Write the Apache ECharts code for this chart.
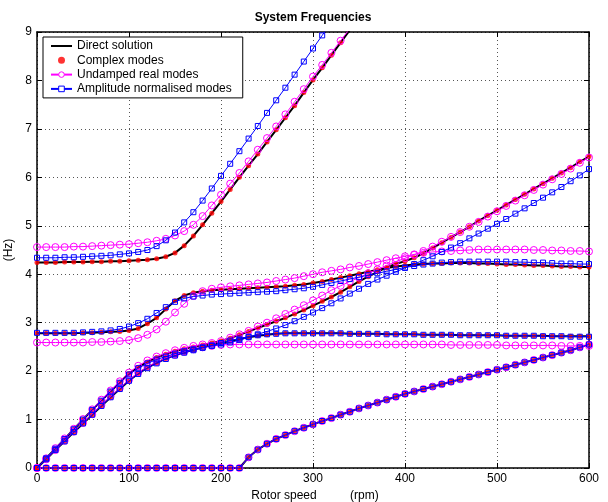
<!DOCTYPE html>
<html>
<head>
<meta charset="utf-8">
<script src="https://cdn.jsdelivr.net/npm/echarts@6/dist/echarts.min.js"></script>
<style>
  html, body { margin: 0; padding: 0; background: #fff; }
  #chart { width: 608px; height: 502px; }
</style>
</head>
<body>
<div id="chart"></div>
<script>
// rotor speed (rpm)
const rpm = [0,10,20,30,40,50,60,70,80,90,100,110,120,130,140,150,160,170,180,190,200,210,220,230,240,250,260,270,280,290,300,310,320,330,340,350,360,370,380,390,400,410,420,430,440,450,460,470,480,490,500,510,520,530,540,550,560,570,580,590,600];

// direct solution (also used by complex modes, the dots sit on the line)
const dirA = [4.24,4.24,4.24,4.25,4.25,4.25,4.26,4.26,4.27,4.27, 4.28,4.29,4.30,4.32,4.36,4.44,4.59,4.79,5.02,5.26, 5.50,5.75,6.00,6.24,6.48,6.73,6.98,7.23,7.48,7.75, 8.01,8.26,8.52,8.78,9.04,9.30,null,null,null,null, null,null,null,null,null,null,null,null,null,null, null,null,null,null,null,null,null,null,null,null,null];
const dirB = [2.78,2.78,2.78,2.78,2.78,2.79,2.79,2.80,2.81,2.82, 2.84,2.88,2.98,3.10,3.28,3.45,3.56,3.62,3.65,3.67, 3.68,3.69,3.70,3.71,3.72,3.73,3.74,3.75,3.77,3.79, 3.82,3.85,3.89,3.93,3.97,4.01,4.05,4.09,4.13,4.16, 4.18,4.20,4.21,4.22,4.22,4.23,4.23,4.23,4.22,4.22, 4.21,4.20,4.20,4.19,4.18,4.18,4.17,4.16,4.16,4.15,4.15];
const dirC1 = [0,0.20,0.40,0.60,0.80,1.00,1.20,1.39,1.58,1.77, 1.95,2.08,2.19,2.28,2.35,2.41,2.46,2.50,2.54,2.58, 2.62,2.68,2.75,2.82,2.89,2.96,3.03,3.10,3.18,3.26, 3.35,3.44,3.53,3.63,3.74,3.85,3.95,4.05,4.14,4.21, 4.27,4.34,4.43,4.54,4.65,4.76,4.87,4.98,5.10,5.21, 5.32,5.43,5.54,5.65,5.76,5.87,5.98,6.09,6.20,6.32,6.43];
const dirC2 = [0,0.18,0.37,0.55,0.74,0.92,1.10,1.28,1.46,1.63, 1.80,1.95,2.07,2.17,2.26,2.33,2.39,2.44,2.49,2.54, 2.58,2.62,2.66,2.70,2.73,2.75,2.77,2.78,2.78,2.78, 2.78,2.78,2.78,2.78,2.77,2.77,2.77,2.77,2.76,2.76, 2.76,2.76,2.75,2.75,2.75,2.75,2.74,2.74,2.74,2.74, 2.74,2.73,2.73,2.73,2.73,2.73,2.72,2.72,2.72,2.72,2.72];
const dirD = [0,0,0,0,0,0,0,0,0,0, 0,0,0,0,0,0,0,0,0,0, 0,0,0,0.22,0.38,0.50,0.60,0.68,0.76,0.83, 0.90,0.97,1.03,1.10,1.16,1.23,1.29,1.35,1.41,1.47, 1.53,1.58,1.63,1.68,1.73,1.78,1.83,1.88,1.93,1.98, 2.03,2.08,2.13,2.18,2.23,2.28,2.33,2.38,2.43,2.49,2.55];

// undamped real modes
const undA = [4.56,4.56,4.56,4.56,4.57,4.57,4.58,4.59,4.60,4.61, 4.62,4.64,4.66,4.69,4.73,4.80,4.89,5.02,5.20,5.42, 5.64,5.87,6.09,6.33,6.57,6.81,7.05,7.30,7.56,7.82, 8.08,8.32,8.57,8.82,9.07,9.32,null,null,null,null, null,null,null,null,null,null,null,null,null,null, null,null,null,null,null,null,null,null,null,null,null];
const undB = [2.59,2.59,2.59,2.59,2.59,2.59,2.60,2.60,2.61,2.62, 2.64,2.68,2.75,2.86,3.02,3.21,3.39,3.55,3.65,3.70, 3.73,3.75,3.77,3.79,3.81,3.83,3.86,3.89,3.92,3.96, 4.00,4.04,4.07,4.10,4.14,4.17,4.21,4.25,4.29,4.33, 4.37,4.41,4.44,4.46,4.47,4.48,4.49,4.50,4.51,4.51, 4.51,4.51,4.51,4.51,4.50,4.50,4.49,4.49,4.48,4.48,4.47];
const undC1 = [0,0.20,0.41,0.61,0.81,1.01,1.21,1.41,1.60,1.79, 1.97,2.11,2.22,2.30,2.37,2.43,2.48,2.52,2.55,2.58, 2.62,2.69,2.76,2.83,2.92,3.00,3.09,3.18,3.27,3.36, 3.46,3.56,3.67,3.76,3.85,3.93,4.02,4.10,4.18,4.26, 4.33,4.40,4.48,4.57,4.67,4.77,4.87,4.98,5.08,5.19, 5.30,5.41,5.52,5.63,5.74,5.85,5.96,6.07,6.18,6.30,6.41];
const undC2 = [0,0.18,0.37,0.56,0.75,0.93,1.11,1.30,1.48,1.65, 1.82,1.97,2.09,2.19,2.27,2.34,2.40,2.45,2.49,2.52, 2.54,2.55,2.55,2.55,2.55,2.55,2.55,2.55,2.55,2.55, 2.55,2.55,2.55,2.55,2.55,2.55,2.55,2.55,2.55,2.55, 2.55,2.55,2.55,2.55,2.55,2.54,2.54,2.54,2.54,2.54, 2.54,2.53,2.53,2.53,2.53,2.53,2.53,2.52,2.52,2.52,2.52];

// amplitude normalised modes
const ampA = [4.34,4.34,4.34,4.35,4.35,4.36,4.37,4.38,4.39,4.41, 4.43,4.46,4.50,4.58,4.70,4.86,5.07,5.28,5.52,5.77, 6.03,6.28,6.54,6.80,7.06,7.33,7.59,7.85,8.12,8.39, 8.66,8.93,9.20,null,null,null,null,null,null,null, null,null,null,null,null,null,null,null,null,null, null,null,null,null,null,null,null,null,null,null,null];
const ampB = [2.79,2.79,2.79,2.79,2.79,2.80,2.81,2.82,2.84,2.87, 2.92,2.99,3.08,3.20,3.32,3.43,3.50,3.54,3.56,3.58, 3.59,3.60,3.61,3.62,3.63,3.64,3.65,3.67,3.69,3.71, 3.74,3.78,3.82,3.86,3.90,3.94,3.98,4.02,4.06,4.10, 4.14,4.17,4.20,4.22,4.24,4.25,4.26,4.26,4.26,4.26, 4.26,4.26,4.25,4.25,4.24,4.24,4.23,4.22,4.22,4.21,4.21];
const ampC1 = [0,0.20,0.40,0.60,0.80,1.00,1.20,1.39,1.58,1.76, 1.93,2.06,2.16,2.24,2.30,2.36,2.41,2.45,2.49,2.52, 2.55,2.59,2.64,2.70,2.76,2.82,2.88,2.95,3.03,3.12, 3.21,3.30,3.40,3.50,3.60,3.70,3.80,3.89,3.97,4.05, 4.13,4.21,4.29,4.37,4.46,4.55,4.64,4.74,4.84,4.94, 5.04,5.14,5.25,5.36,5.47,5.58,5.69,5.80,5.92,6.04,6.17];
const ampC2 = [0,0.18,0.37,0.55,0.74,0.92,1.10,1.28,1.46,1.63, 1.80,1.94,2.06,2.16,2.25,2.32,2.38,2.43,2.48,2.53, 2.58,2.63,2.67,2.71,2.74,2.76,2.77,2.78,2.78,2.78, 2.78,2.78,2.78,2.78,2.77,2.77,2.77,2.77,2.76,2.76, 2.76,2.76,2.75,2.75,2.75,2.75,2.74,2.74,2.74,2.74, 2.74,2.73,2.73,2.73,2.73,2.72,2.72,2.72,2.71,2.71,2.71];

const xTicks = [0, 100, 200, 300, 400, 500, 600];
const yTicks = [0, 1, 2, 3, 4, 5, 6, 7, 8, 9];

const FONT = '"Liberation Sans", Arial, Helvetica, sans-serif';

const pts = (arr) => rpm.map((r, i) => [r, arr[i]]);

const direct = [dirA, dirB, dirC1, dirC2, dirD];
const undamped = [undA, undB, undC1, undC2, dirD];
const amplitude = [ampA, ampB, ampC1, ampC2, dirD];

const series = [];
direct.forEach((a) => {
  series.push({
    name: 'Direct solution', type: 'line', data: pts(a), symbol: 'none',
    lineStyle: { color: '#000', width: 2 }, itemStyle: { color: '#000' },
    z: 2, silent: true, connectNulls: false
  });
});
direct.forEach((a) => {
  series.push({
    name: 'Complex modes', type: 'scatter', data: pts(a), symbol: 'circle', symbolSize: 5,
    itemStyle: { color: '#ff0000' }, z: 3, silent: true
  });
});
undamped.forEach((a) => {
  series.push({
    name: 'Undamped real modes', type: 'line', data: pts(a), symbol: 'circle', symbolSize: 7,
    showAllSymbol: true,
    lineStyle: { color: '#ff00ff', width: 1 },
    itemStyle: { color: 'rgba(255,0,255,0)', borderColor: '#ff00ff', borderWidth: 1 },
    z: 4, silent: true
  });
});
amplitude.forEach((a) => {
  series.push({
    name: 'Amplitude normalised modes', type: 'line', data: pts(a), symbol: 'rect', symbolSize: 5,
    showAllSymbol: true,
    lineStyle: { color: '#0000ff', width: 1 },
    itemStyle: { color: 'rgba(0,0,255,0)', borderColor: '#0000ff', borderWidth: 1 },
    z: 5, silent: true
  });
});

const chart = echarts.init(document.getElementById('chart'), null, { renderer: 'canvas' });

const gridLine = { show: true, lineStyle: { color: '#555', type: [1, 3], width: 1 } };
const tickStyle = { show: true, inside: true, length: 5, lineStyle: { color: '#000', width: 1 } };
const axisLine = { show: true, onZero: false, lineStyle: { color: '#000', width: 1.5 } };

chart.setOption({
  animation: false,
  backgroundColor: '#fff',
  textStyle: { fontFamily: FONT },
  graphic: [{
    type: 'text', x: 313, y: 12,
    style: { text: 'System Frequencies', textAlign: 'center', font: 'bold 12px ' + FONT, fill: '#000' }
  }],
  grid: { left: 37, right: 19, top: 32, bottom: 34, containLabel: false, outerBoundsMode: 'none' },
  legend: {
    orient: 'vertical', left: 43, top: 37, z: 10,
    padding: [2, 11, 2, 7], itemGap: 0.3, itemWidth: 21, itemHeight: 7,
    backgroundColor: '#fff', borderColor: '#000', borderWidth: 1, borderRadius: 0,
    selectedMode: false,
    textStyle: { fontSize: 12, color: '#000', fontFamily: FONT, lineHeight: 14 },
    data: [
      { name: 'Direct solution', itemStyle: { opacity: 0 } },
      'Complex modes',
      { name: 'Undamped real modes', itemStyle: { color: '#fff', borderColor: '#ff00ff', borderWidth: 1 } },
      { name: 'Amplitude normalised modes', itemStyle: { color: '#fff', borderColor: '#0000ff', borderWidth: 1 } }
    ]
  },
  xAxis: [{
    type: 'value', min: xTicks[0], max: xTicks[xTicks.length - 1], interval: xTicks[1] - xTicks[0],
    position: 'bottom',
    name: 'Rotor speed          (rpm)', nameLocation: 'middle', nameGap: 16,
    nameTextStyle: { fontSize: 12, color: '#000', fontFamily: FONT, padding: [0, 0, 0, 4] },
    axisLine: axisLine, axisTick: tickStyle, splitLine: gridLine,
    axisLabel: { fontSize: 12, color: '#000', margin: 5, fontFamily: FONT }
  }, {
    type: 'value', min: xTicks[0], max: xTicks[xTicks.length - 1], interval: xTicks[1] - xTicks[0],
    position: 'top',
    axisLine: axisLine, axisTick: tickStyle, splitLine: { show: false }, axisLabel: { show: false }
  }],
  yAxis: [{
    type: 'value', min: yTicks[0], max: yTicks[yTicks.length - 1], interval: yTicks[1] - yTicks[0],
    position: 'left',
    name: '(Hz)', nameLocation: 'middle', nameGap: 20, nameRotate: 90,
    nameTextStyle: { fontSize: 12, color: '#000', fontFamily: FONT },
    axisLine: axisLine, axisTick: tickStyle, splitLine: gridLine,
    axisLabel: { fontSize: 12, color: '#000', margin: 5, fontFamily: FONT }
  }, {
    type: 'value', min: yTicks[0], max: yTicks[yTicks.length - 1], interval: yTicks[1] - yTicks[0],
    position: 'right',
    axisLine: axisLine, axisTick: tickStyle, splitLine: { show: false }, axisLabel: { show: false }
  }],
  series: series
});
</script>
</body>
</html>
